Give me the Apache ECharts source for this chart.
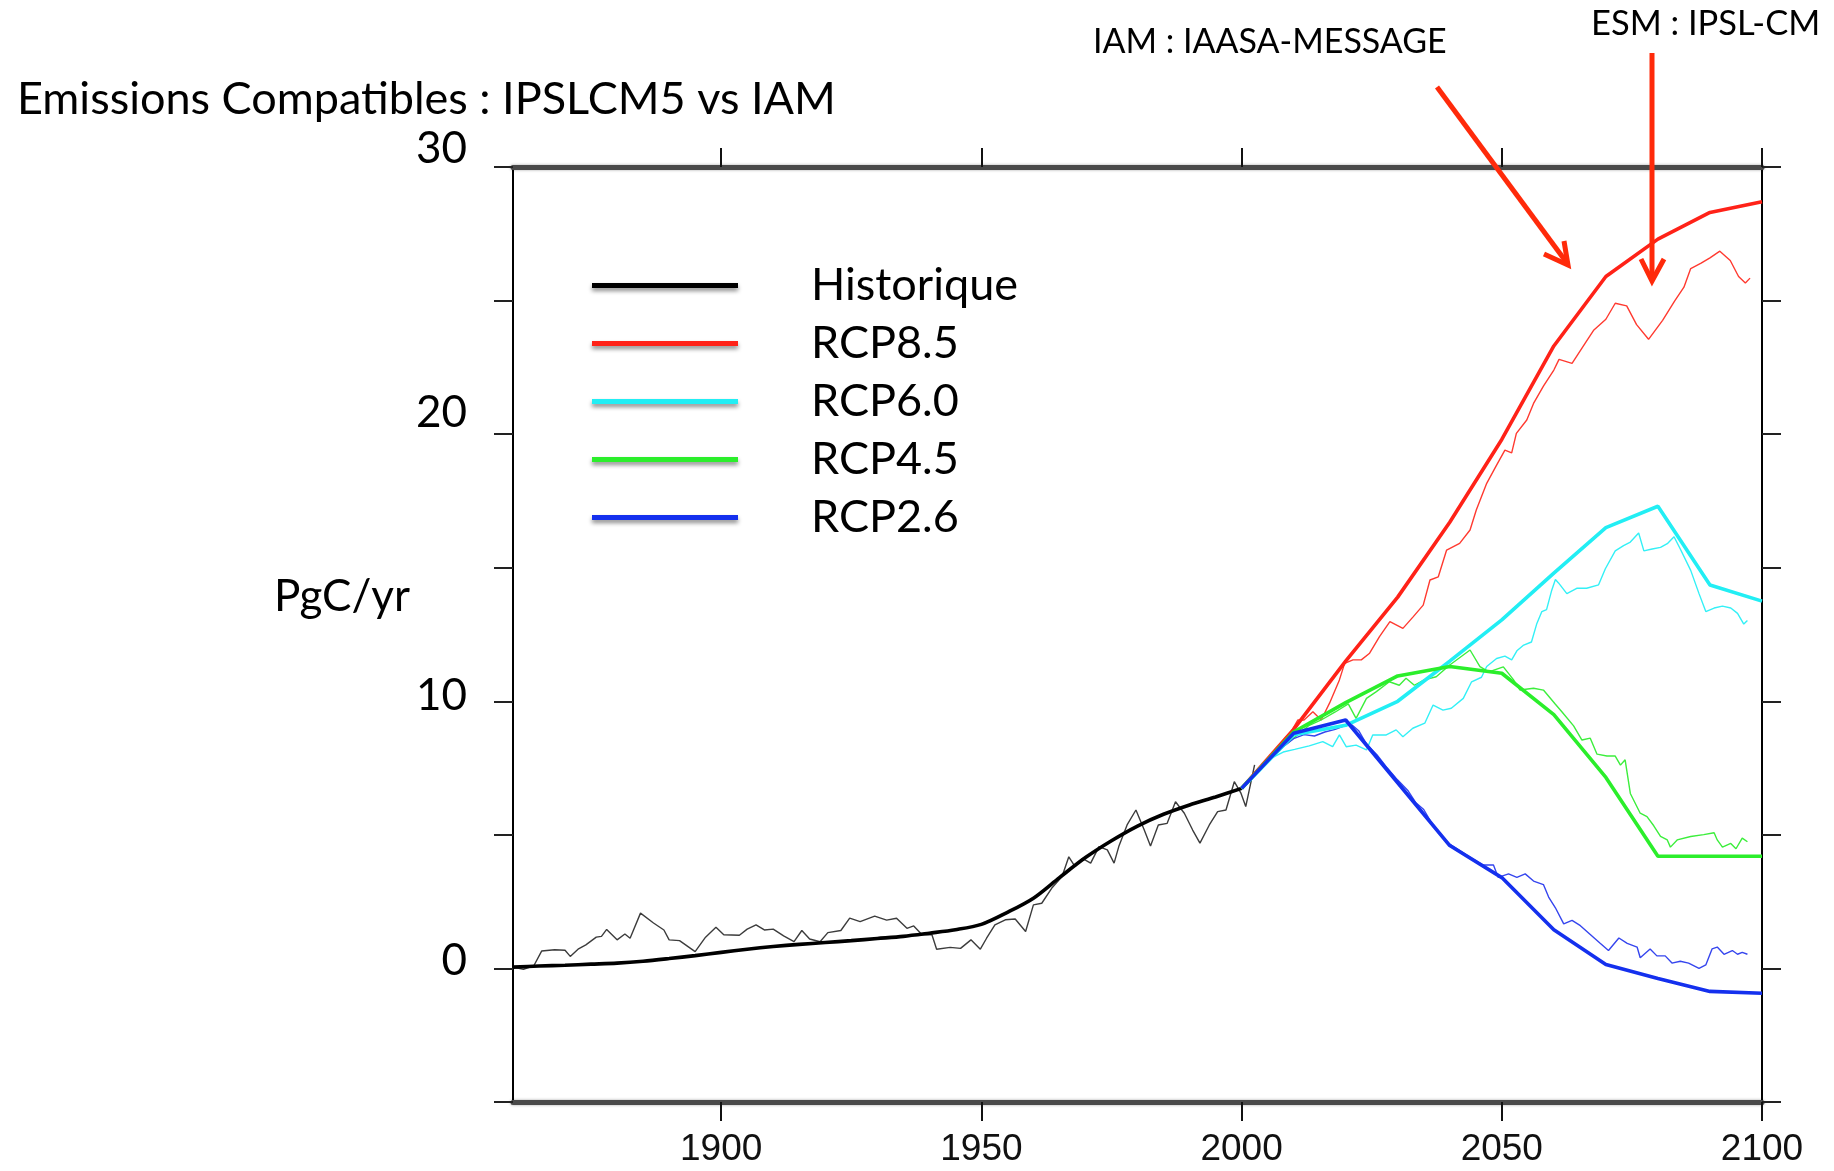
<!DOCTYPE html>
<html>
<head>
<meta charset="utf-8">
<script src="https://cdn.jsdelivr.net/npm/echarts@6/dist/echarts.min.js"></script>
<style>
html,body{margin:0;padding:0;background:#fff;}
#chart{width:1834px;height:1171px;}
</style>
</head>
<body>
<div id="chart"></div>
<script>
// ---------- data (year, PgC/yr) ----------
const xTickYears = [1900, 1950, 2000, 2050, 2100];
const yLabelValues = [0, 10, 20, 30];
const legendNames = ['Historique', 'RCP8.5', 'RCP6.0', 'RCP4.5', 'RCP2.6'];

const histIAM = [[1860,0.05],[1865,0.09],[1870,0.12],[1875,0.16],[1880,0.2],[1885,0.27],[1890,0.37],[1895,0.48],[1900,0.6],[1905,0.72],[1910,0.82],[1915,0.9],[1920,0.97],[1925,1.04],[1930,1.12],[1935,1.2],[1940,1.32],[1945,1.45],[1950,1.65],[1955,2.1],[1960,2.63],[1965,3.4],[1970,4.15],[1975,4.78],[1980,5.33],[1985,5.77],[1990,6.12],[1995,6.42],[2000,6.74]];

const histESM = [[1860,0.05],[1862,-0.03],[1864,0.1],[1865.5,0.65],[1868,0.7],[1870,0.68],[1871,0.45],[1872.5,0.72],[1874,0.88],[1876,1.17],[1877,1.2],[1878,1.46],[1880,1.07],[1881.5,1.29],[1882.5,1.13],[1884.5,2.07],[1887,1.7],[1889,1.44],[1890,1.07],[1892,1.04],[1895,0.63],[1897,1.17],[1899,1.54],[1900.5,1.26],[1903.5,1.24],[1905,1.47],[1906.7,1.63],[1908.3,1.44],[1910,1.47],[1912,1.22],[1914,1.0],[1915.5,1.42],[1917,1.1],[1919,1.0],[1920.5,1.34],[1923,1.42],[1924.7,1.88],[1926.7,1.75],[1929.5,1.96],[1931.8,1.81],[1933.7,1.88],[1935.7,1.5],[1937,1.59],[1938.6,1.26],[1940.5,1.26],[1941.4,0.72],[1944,0.79],[1946,0.75],[1948,1.07],[1949.8,0.72],[1951,1.13],[1952.6,1.63],[1954.6,1.82],[1956.5,1.85],[1958.5,1.38],[1960,2.38],[1961.6,2.44],[1963.5,3.0],[1965.5,3.44],[1966.8,4.18],[1968,3.81],[1969.4,4.12],[1971,3.94],[1972.6,4.56],[1974.2,4.44],[1975.5,3.94],[1976.4,4.56],[1978,5.37],[1979.7,5.93],[1981.3,5.18],[1982.5,4.58],[1984,5.37],[1985.7,5.43],[1987.3,6.24],[1989,5.81],[1990.6,5.18],[1992,4.69],[1993.8,5.37],[1995.4,5.87],[1997,5.93],[1998.6,6.99],[1999.9,6.55],[2000.8,6.06],[2002.5,7.62]];

const rcp85IAM = [[2000,6.74],[2010,8.95],[2020,11.5],[2030,13.9],[2040,16.7],[2050,19.8],[2060,23.3],[2070,25.9],[2080,27.3],[2090,28.3],[2100,28.7]];
const rcp60IAM = [[2000,6.74],[2010,8.75],[2020,9.1],[2030,10.0],[2040,11.5],[2050,13.05],[2060,14.8],[2070,16.5],[2080,17.3],[2090,14.35],[2100,13.75]];
const rcp45IAM = [[2000,6.74],[2010,8.85],[2020,9.95],[2030,10.95],[2040,11.3],[2050,11.05],[2060,9.5],[2070,7.15],[2080,4.2],[2090,4.2],[2100,4.2]];
const rcp26IAM = [[2000,6.74],[2010,8.8],[2020,9.3],[2030,6.95],[2040,4.6],[2050,3.4],[2060,1.45],[2070,0.15],[2080,-0.38],[2090,-0.86],[2100,-0.93]];

const rcp85ESM = [[2006,7.9],[2008,8.5],[2009.5,8.86],[2010.8,9.3],[2012,9.3],[2013.7,9.61],[2015.3,9.3],[2016.9,9.93],[2018.8,10.8],[2019.8,11.42],[2021.4,11.55],[2023,11.55],[2024.6,11.8],[2026.5,12.42],[2028.5,12.98],[2031,12.73],[2033,13.17],[2034.9,13.6],[2036.2,14.54],[2037.8,14.66],[2039.4,15.66],[2041.9,15.91],[2043.9,16.41],[2045.1,17.16],[2047.1,18.16],[2049,18.84],[2050.6,19.4],[2051.9,19.3],[2052.8,20.03],[2054.8,20.53],[2056.1,21.15],[2058,21.8],[2060,22.4],[2061,22.8],[2063.5,22.65],[2066,23.4],[2067.7,23.9],[2070,24.3],[2071.8,24.9],[2074,24.8],[2075.9,24.1],[2078.2,23.55],[2080.9,24.26],[2083.2,24.98],[2085,25.5],[2086.3,26.2],[2088.3,26.4],[2090,26.6],[2091.9,26.85],[2093.9,26.5],[2095.5,25.9],[2096.8,25.66],[2097.7,25.84]];

const rcp60ESM = [[2006,7.9],[2008,8.1],[2010.2,8.2],[2013,8.33],[2015.6,8.49],[2017.5,8.3],[2018.8,8.74],[2020.1,8.3],[2022,8.36],[2024,8.18],[2025.2,8.74],[2027.8,8.74],[2029.7,8.93],[2031,8.67],[2032.9,8.99],[2035.2,9.18],[2036.8,9.86],[2038.7,9.67],[2040.3,9.74],[2042.6,10.11],[2044.2,10.73],[2046.1,10.9],[2047.1,11.3],[2049,11.6],[2050.6,11.69],[2051.9,11.55],[2052.9,11.89],[2054.1,12.09],[2055.7,12.22],[2056.7,12.89],[2057.7,13.36],[2058.6,13.43],[2059.6,14.16],[2060.3,14.56],[2060.9,14.43],[2062.5,14.03],[2064.4,14.23],[2066.3,14.23],[2068.6,14.36],[2069.9,14.96],[2071.8,15.63],[2073.4,15.83],[2074.7,15.96],[2076.3,16.3],[2077.3,15.63],[2078.9,15.7],[2080.5,15.76],[2081.8,15.9],[2083.1,16.16],[2084.3,15.7],[2086.3,14.9],[2087.9,14.03],[2089.2,13.36],[2090.8,13.49],[2092.4,13.56],[2094,13.49],[2095.3,13.29],[2096.5,12.89],[2097.2,13.02]];

const rcp45ESM = [[2006,7.9],[2008,8.3],[2010.5,8.7],[2013,9.1],[2015.3,9.3],[2018,9.6],[2020.5,9.9],[2022,9.36],[2024,10.11],[2025.9,10.36],[2028.4,10.73],[2030.3,10.6],[2031.6,10.86],[2033.2,10.6],[2035.1,10.8],[2037.4,10.92],[2040,11.36],[2043.9,11.92],[2045.8,11.3],[2047.5,11.1],[2050.3,11.29],[2052.2,10.82],[2053.5,10.42],[2056.1,10.49],[2058,10.42],[2060.3,9.89],[2061.5,9.62],[2063.8,9.08],[2065.4,8.55],[2067,8.62],[2068.3,8.02],[2070.2,7.95],[2071.8,7.95],[2072.8,7.61],[2073.7,7.81],[2074.7,6.55],[2076.6,5.81],[2077.9,5.68],[2079.2,5.34],[2080.5,4.94],[2081.8,4.81],[2082.4,4.54],[2083.7,4.81],[2086.3,4.94],[2088.8,5.01],[2090.8,5.08],[2091.4,4.81],[2092.4,4.54],[2094,4.68],[2095,4.48],[2096.2,4.88],[2097.2,4.74]];

const rcp26ESM = [[2006,7.9],[2008,8.3],[2010,8.6],[2012,8.75],[2014,8.7],[2016,8.85],[2018,8.95],[2020,9.1],[2021,9.15],[2022.5,8.9],[2024,8.4],[2026,8.0],[2028,7.5],[2030,7.05],[2032,6.65],[2033.5,6.2],[2035,5.95],[2036.5,5.45],[2038,5.05],[2040,4.65],[2042,4.4],[2044,4.15],[2046.4,3.87],[2048.4,3.87],[2049.3,3.41],[2051.3,3.54],[2052.9,3.41],[2054.5,3.54],[2056.1,3.27],[2058,3.14],[2059,2.67],[2060.3,2.27],[2061.9,1.67],[2063.5,1.8],[2065.1,1.6],[2067,1.27],[2068.9,0.94],[2070.5,0.67],[2072.5,1.14],[2074.1,0.94],[2076,0.8],[2076.6,0.4],[2078.5,0.73],[2079.8,0.47],[2081.4,0.47],[2082.7,0.2],[2084.3,0.27],[2085.9,0.2],[2087.9,0.0],[2089.2,0.13],[2090.4,0.73],[2091.4,0.8],[2092.7,0.53],[2094.3,0.67],[2095.3,0.53],[2096.2,0.6],[2097.2,0.53]];

// ---------- styling ----------
const colors = {
  'Historique': ['#000000', '#3c3c3c'],
  'RCP8.5': ['#ff2218', '#ff3a30'],
  'RCP6.0': ['#22eef4', '#33f0f6'],
  'RCP4.5': ['#2bee2b', '#3cee3c'],
  'RCP2.6': ['#1430ee', '#3545ee']
};
// vertical nudge (px, upward) of the y tick labels, as in the original slide
const yLabelNudge = { 30: 36, 20: 42, 10: 10, 0: 16 };

function thin(name, data) {
  return { name, type: 'line', data, showSymbol: false, symbol: 'none', z: 2,
    itemStyle: { color: colors[name][0] },
    lineStyle: { color: colors[name][1], width: 1.4 } };
}
function thick(name, data, smooth) {
  return { name, type: 'line', data, showSymbol: false, symbol: 'none', z: 3, smooth: smooth || false,
    itemStyle: { color: colors[name][0] },
    lineStyle: { color: colors[name][0], width: 3.6 } };
}

const axisFont = 'Lato';
const xAxisCommon = {
  type: 'value', min: 1860, max: 2100,
  axisLine: { show: true, onZero: false, lineStyle: { color: '#4a4a4a', width: 5, shadowBlur: 3, shadowColor: 'rgba(0,0,0,0.35)' } },
  axisTick: { show: true, length: 19, customValues: xTickYears, lineStyle: { color: '#111', width: 2 } },
  splitLine: { show: false }
};
const yAxisCommon = {
  type: 'value', min: -5, max: 30, interval: 5,
  axisLine: { show: true, onZero: false, lineStyle: { color: '#000', width: 2 } },
  axisTick: { show: true, length: 19, lineStyle: { color: '#222', width: 2 } },
  splitLine: { show: false }
};

const yRich = {};
yLabelValues.forEach(v => {
  yRich['v' + (v < 0 ? 'm' + (-v) : v)] = { fontFamily: axisFont, fontSize: 44, color: '#000', padding: [0, 0, yLabelNudge[v] || 0, 0] };
});

const chart = echarts.init(document.getElementById('chart'), null, { renderer: 'canvas' });
chart.setOption({
  animation: false,
  backgroundColor: '#ffffff',
  title: {
    text: 'Emissions Compatibles : IPSLCM5 vs IAM',
    left: 12, top: 72,
    textStyle: { fontFamily: axisFont, fontSize: 45, fontWeight: 'normal', color: '#000' }
  },
  legend: {
    data: legendNames, orient: 'vertical', left: 587, top: 258,
    icon: 'rect', itemWidth: 146, itemHeight: 5, itemGap: 13,
    textStyle: { fontFamily: axisFont, fontSize: 45, color: '#000', padding: [0, 0, 0, 68], lineHeight: 42 },
    itemStyle: { shadowBlur: 4, shadowColor: 'rgba(0,0,0,0.45)', shadowOffsetY: 3 }
  },
  grid: { left: 513, right: 72, top: 167, bottom: 69 },
  xAxis: [
    Object.assign({}, xAxisCommon, { position: 'bottom',
      axisLabel: { show: true, customValues: xTickYears, formatter: v => String(v),
        fontFamily: 'Liberation Sans', fontSize: 37, color: '#111', margin: 29 } }),
    Object.assign({}, xAxisCommon, { position: 'top', axisLabel: { show: false } })
  ],
  yAxis: [
    Object.assign({}, yAxisCommon, { position: 'left',
      axisLabel: { show: true, margin: 46,
        formatter: v => yLabelValues.indexOf(v) >= 0 ? '{v' + (v < 0 ? 'm' + (-v) : v) + '|' + v + '}' : '',
        rich: yRich },
      name: '{n|PgC/yr}', nameLocation: 'middle', nameRotate: 0, nameGap: 92,
      nameTextStyle: { rich: { n: { fontFamily: axisFont, fontSize: 44, color: '#000', padding: [0, 0, 75, 0] } } } }),
    Object.assign({}, yAxisCommon, { position: 'right', axisLabel: { show: false } })
  ],
  graphic: [
    { type: 'text', x: 1093, y: 42, style: { text: 'IAM : IAASA-MESSAGE', fontFamily: axisFont, fontSize: 34, fill: '#000', verticalAlign: 'middle' } },
    { type: 'text', x: 1591, y: 24, style: { text: 'ESM : IPSL-CM', fontFamily: axisFont, fontSize: 34.5, fill: '#000', verticalAlign: 'middle' } },
    { type: 'line', shape: { x1: 1437, y1: 87, x2: 1567, y2: 263 }, style: { stroke: '#ff2a0a', lineWidth: 5 }, z: 100 },
    { type: 'polyline', shape: { points: [[1544, 254], [1568, 265], [1564, 241]] }, style: { stroke: '#ff2a0a', lineWidth: 5, fill: null }, z: 100 },
    { type: 'line', shape: { x1: 1652, y1: 53, x2: 1652, y2: 279 }, style: { stroke: '#ff2a0a', lineWidth: 5 }, z: 100 },
    { type: 'polyline', shape: { points: [[1641, 259], [1652, 281], [1664, 259]] }, style: { stroke: '#ff2a0a', lineWidth: 5, fill: null }, z: 100 }
  ],
  series: [
    thick('Historique', histIAM, 0.3),
    thick('RCP8.5', rcp85IAM),
    thick('RCP6.0', rcp60IAM),
    thick('RCP4.5', rcp45IAM),
    thick('RCP2.6', rcp26IAM),
    thin('Historique', histESM),
    thin('RCP8.5', rcp85ESM),
    thin('RCP6.0', rcp60ESM),
    thin('RCP4.5', rcp45ESM),
    thin('RCP2.6', rcp26ESM)
  ]
});
</script>
</body>
</html>
